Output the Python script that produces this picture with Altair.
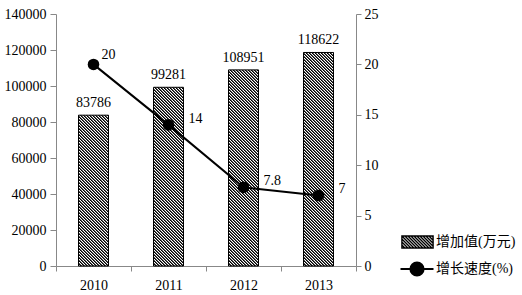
import altair as alt
import pandas as pd

years = ["2010", "2011", "2012", "2013"]
added_value = [83786, 99281, 108951, 118622]
growth = [20, 14, 7.8, 7]
bar_label = "增加值(万元)"
line_label = "增长速度(%)"

W, H = 300, 252
BAR_W = 31
Y1_MAX = 140000
Y1_STEP = 20000
Y2_MAX = 25
GRAY = "#888888"
FONT = "Liberation Serif, Noto Sans CJK SC"
FS = 14

SEG_PX = Y1_STEP / Y1_MAX * H      # pixel height of one hatch segment (36)
PERIOD = 3.0                       # horizontal stripe period in pixels
# stripe colour bands within one period: (start, end, colour)
BANDS = [(0, 1 / 6, "black"), (1 / 6, 1 / 2, "#5a5a5a"), (1 / 2, 5 / 6, "white"), (5 / 6, 1, "black")]


def hatch(w, h, period=PERIOD):
    k = (w + h) / (w * w + h * h)
    n = (w + h) / period
    stops = []
    i = 0
    while i < n:
        for a, b, col in BANDS:
            s = (i + a) / n
            e = (i + b) / n
            if s >= 1:
                break
            stops += [{"offset": s, "color": col}, {"offset": min(e, 1), "color": col}]
        i += 1
    return {"gradient": "linear", "x1": 0, "y1": 1, "x2": k * w, "y2": 1 - k * h, "stops": stops}


def hatch_symbol(hw=2.6, hh=1.0, step=0.5):
    parts = [f"M{-hw},{-hh}H{hw}V{hh}H{-hw}Z"]
    x0 = -hw - 2 * hh
    while x0 < hw:
        xs = max(x0, -hw)
        xe = min(x0 + 2 * hh, hw)
        if xe - xs > 1e-6:
            parts.append(f"M{xs:.3f},{-hh + (xs - x0):.3f}L{xe:.3f},{-hh + (xe - x0):.3f}")
        x0 += step
    return "".join(parts)


df = pd.DataFrame({
    "year": years,
    "value": added_value,
    "growth": growth,
    "s1": bar_label,
    "s2": line_label,
})

# split each bar into stacked pieces so every hatch gradient stays short
seg_rows = []
for yr, v in zip(years, added_value):
    lo = 0
    while lo < v:
        hi = min(lo + Y1_STEP, v)
        seg_rows.append({"year": yr, "lo": lo, "hi": hi, "full": (hi - lo) == Y1_STEP, "s1": bar_label})
        lo = hi
seg = pd.DataFrame(seg_rows)

conds = [{"test": "datum.full", "value": hatch(BAR_W, SEG_PX)}] + [
    {"test": f"datum.year === '{yr}'", "value": hatch(BAR_W, (v % Y1_STEP) / Y1_MAX * H)}
    for yr, v in zip(years, added_value)
]

RECT_PATH = hatch_symbol()
LINE_PATH = "M-2.75,0H2.75M1.1,0A1.1,1.1,0,1,1,-1.1,0A1.1,1.1,0,1,1,1.1,0Z"

x = alt.X(
    "year:N",
    scale=alt.Scale(paddingInner=0, paddingOuter=0),
    axis=alt.Axis(
        title=None, labelAngle=0, tickBand="extent", domainColor=GRAY, tickColor=GRAY,
        tickSize=5, labelPadding=7, labelFontSize=FS, labelFont=FONT, labelColor="black",
    ),
)

y1_scale = alt.Scale(domain=[0, Y1_MAX])
y1_axis = alt.Axis(
    title=None, orient="left", values=list(range(0, Y1_MAX + 1, Y1_STEP)), format="d",
    grid=False, domainColor=GRAY, tickColor=GRAY, tickSize=6, labelPadding=4,
    labelFontSize=FS, labelFont=FONT, labelColor="black", labelOverlap=False,
)

bars_fill = alt.Chart(seg).mark_bar(size=BAR_W, strokeWidth=0).encode(
    x=x,
    y=alt.Y("lo:Q", scale=y1_scale, axis=y1_axis),
    y2="hi:Q",
    fill=alt.Fill(
        "s1:N",
        scale=alt.Scale(domain=[bar_label], range=["white"]),
        condition=conds,
        legend=alt.Legend(
            title=None, orient="none", legendX=354.5, legendY=221, padding=0,
            symbolType=RECT_PATH, symbolSize=144, symbolFillColor="white",
            symbolStrokeColor="black", symbolStrokeWidth=1.4,
            labelOffset=11.5, labelFont=FONT, labelFontSize=FS, labelColor="black",
        ),
    ),
)

bars_outline = alt.Chart(df).mark_bar(size=BAR_W - 1, fill=None, fillOpacity=0, stroke="black", strokeWidth=1).encode(
    x=x,
    y=alt.Y("value:Q", scale=y1_scale, axis=y1_axis),
)

bar_text = alt.Chart(df).mark_text(dy=-8, baseline="alphabetic", font=FONT, fontSize=FS, color="black").encode(
    x=x,
    y=alt.Y("value:Q", scale=y1_scale, axis=y1_axis),
    text=alt.Text("value:Q", format="d"),
)

y2_scale = alt.Scale(domain=[0, Y2_MAX])
y2_axis = alt.Axis(
    title=None, orient="right", values=list(range(0, Y2_MAX + 1, 5)), grid=False,
    domainColor=GRAY, tickColor=GRAY, tickSize=5, labelPadding=3,
    labelFontSize=FS, labelFont=FONT, labelColor="black", labelOverlap=False,
)
y2 = alt.Y("growth:Q", scale=y2_scale, axis=y2_axis)

line = alt.Chart(df).mark_line(strokeWidth=2).encode(
    x=x,
    y=y2,
    stroke=alt.Stroke(
        "s2:N",
        scale=alt.Scale(domain=[line_label], range=["black"]),
        legend=alt.Legend(
            title=None, orient="none", legendX=354, legendY=248, padding=0,
            symbolType=LINE_PATH, symbolSize=144, symbolStrokeColor="black", symbolStrokeWidth=2,
            symbolFillColor="black",
            labelOffset=12, labelFont=FONT, labelFontSize=FS, labelColor="black",
        ),
    ),
)

points = alt.Chart(df).mark_point(filled=True, size=133, color="black", opacity=1).encode(
    x=x, y=y2
)

lab_first = alt.Chart(df).transform_filter("datum.year === '2010'").mark_text(
    align="left", baseline="middle", dx=8, dy=-9, font=FONT, fontSize=FS, color="black"
).encode(x=x, y=y2, text="growth:Q")

lab_rest = alt.Chart(df).transform_filter("datum.year !== '2010'").mark_text(
    align="left", baseline="middle", dx=20, dy=-6, font=FONT, fontSize=FS, color="black"
).encode(x=x, y=y2, text="growth:Q")

left = alt.layer(bars_fill, bars_outline, bar_text)
right = alt.layer(line, points, lab_first, lab_rest)

chart = alt.layer(left, right).resolve_scale(y="independent").properties(
    width=W,
    height=H,
    padding={"left": 56, "top": 14, "right": 166, "bottom": 29},
    autosize=alt.AutoSizeParams(type="none"),
    background="white",
).configure_view(stroke=None)

chart.save("out.html", embed_options={"renderer": "svg", "actions": False})
